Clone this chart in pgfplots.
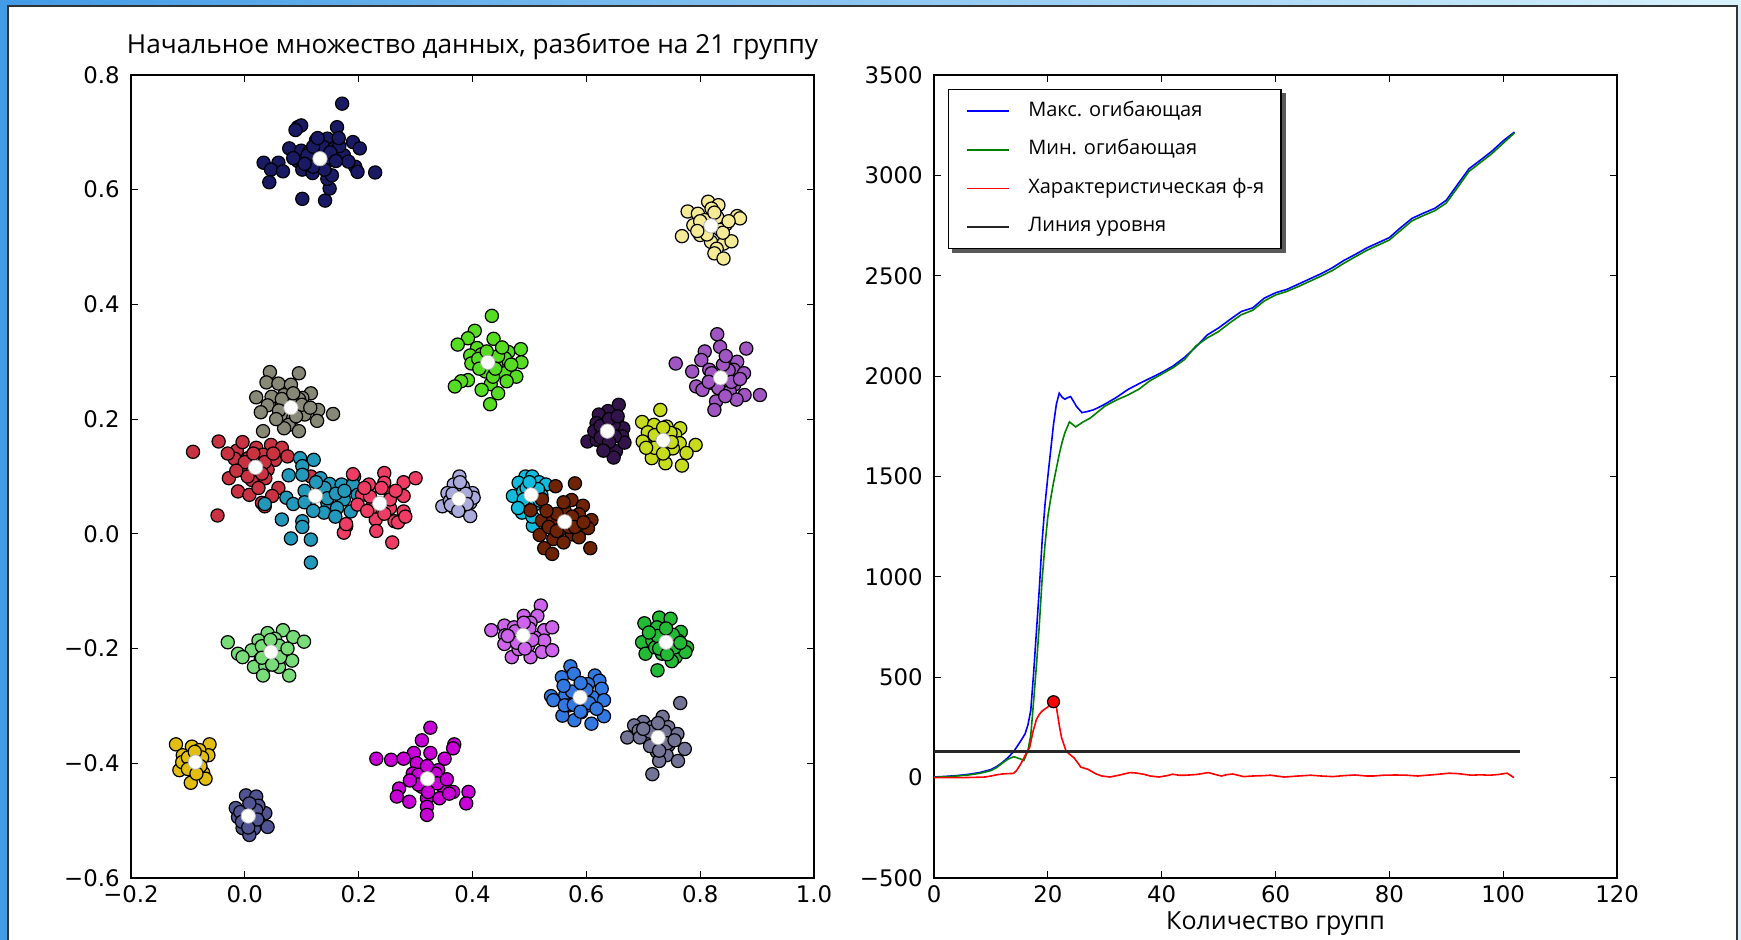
\documentclass[border=0pt]{standalone}
\usepackage{pgfplots}
\pgfplotsset{compat=1.18}
\usepackage{fontspec}
\setmainfont{Open Sans}
\newfontfamily\dejavu{DejaVu Sans}

\pgfdeclarelayer{bg}
\pgfdeclarelayer{shadow}
\pgfsetlayers{bg,shadow,main}

\definecolor{c01}{RGB}{25,25,100}
\definecolor{c02}{RGB}{245,235,150}
\definecolor{c03}{RGB}{85,221,34}
\definecolor{c04}{RGB}{160,85,195}
\definecolor{c05}{RGB}{136,136,119}
\definecolor{c06}{RGB}{200,50,65}
\definecolor{c07}{RGB}{34,153,187}
\definecolor{c08}{RGB}{238,60,100}
\definecolor{c09}{RGB}{170,170,220}
\definecolor{c10}{RGB}{17,187,221}
\definecolor{c11}{RGB}{110,35,5}
\definecolor{c12}{RGB}{50,20,75}
\definecolor{c13}{RGB}{200,220,30}
\definecolor{c14}{RGB}{120,220,120}
\definecolor{c15}{RGB}{205,100,235}
\definecolor{c16}{RGB}{34,187,51}
\definecolor{c17}{RGB}{50,120,225}
\definecolor{c18}{RGB}{115,115,150}
\definecolor{c19}{RGB}{225,190,15}
\definecolor{c20}{RGB}{80,85,145}
\definecolor{c21}{RGB}{200,0,215}
\definecolor{mplgreen}{RGB}{0,128,0}

\pgfplotsset{
  clu/.style={only marks, mark=*, mark size=3.3pt,
    mark options={fill=#1, draw=black, line width=0.6pt}},
  frame/.style={
    scale only axis, width=341.5pt, height=401.5pt, anchor=south west,
    tick align=inside, tick pos=both, major tick length=3.5pt,
    axis line style={line width=0.75pt},
    every tick/.style={black, line width=0.6pt},
    tick label style={font=\dejavu\fontsize{11.4}{13}\selectfont},
    xticklabel style={anchor=base, yshift=-12.5pt},
    yticklabel style={anchor=east, inner sep=0pt, xshift=-5.5pt},
  },
}

\begin{document}
\begin{tikzpicture}
\useasboundingbox (0,0) rectangle (870.5pt,470pt);
\begin{pgfonlayer}{bg}
\shade[left color={rgb,255:red,65;green,155;blue,230}, right color={rgb,255:red,215;green,242;blue,252}] (0,0) rectangle (870.5pt,470pt);
\fill[white] (4pt,-2pt) rectangle (868.5pt,467pt);
\draw[black!80, line width=0.6pt] (4pt,-2pt) -- (4pt,467pt) -- (868.5pt,467pt) -- (868.5pt,-2pt);
\end{pgfonlayer}

% left: clusters
\begin{axis}[frame, at={(65.5pt,31pt)},
  xmin=-0.2, xmax=1.0, ymin=-0.6, ymax=0.8,
  xtick={-0.2,0,0.2,0.4,0.6,0.8,1.0},
  xticklabels={−0.2,0.0,0.2,0.4,0.6,0.8,1.0},
  ytick={-0.6,-0.4,-0.2,0,0.2,0.4,0.6,0.8},
  yticklabels={−0.6,−0.4,−0.2,0.0,0.2,0.4,0.6,0.8},
  title={Начальное множество данных, разбитое на 21 группу},
  title style={at={(0.5,1)}, anchor=base, yshift=4.5pt, font=\fontsize{13.1}{15}\selectfont},
]
\addplot[clu=c01] coordinates {
(0.171,0.750) (0.093,0.709) (0.099,0.712) (0.089,0.704) (0.162,0.709) (0.078,0.672)
(0.190,0.683) (0.202,0.672) (0.033,0.647) (0.059,0.647) (0.046,0.635) (0.067,0.632)
(0.043,0.613) (0.101,0.584) (0.141,0.581) (0.149,0.602) (0.229,0.630) (0.194,0.640)
(0.198,0.631) (0.125,0.686) (0.145,0.689) (0.139,0.674) (0.157,0.672) (0.174,0.660)
(0.113,0.651) (0.093,0.650) (0.101,0.635) (0.119,0.629) (0.133,0.641) (0.149,0.652)
(0.145,0.619) (0.099,0.668) (0.153,0.625) (0.113,0.666) (0.166,0.676) (0.182,0.649)
(0.110,0.660) (0.120,0.675) (0.150,0.665) (0.160,0.650) (0.140,0.635) (0.120,0.640)
(0.105,0.645) (0.128,0.690) (0.165,0.690) (0.085,0.655)
};
\addplot[clu=c02] coordinates {
(0.814,0.579) (0.832,0.573) (0.778,0.562) (0.796,0.558) (0.865,0.554) (0.870,0.550)
(0.820,0.567) (0.808,0.547) (0.788,0.538) (0.845,0.539) (0.768,0.519) (0.800,0.521)
(0.819,0.509) (0.841,0.506) (0.855,0.510) (0.829,0.497) (0.825,0.489) (0.841,0.480)
(0.835,0.530) (0.804,0.533) (0.800,0.545) (0.830,0.552) (0.840,0.525) (0.812,0.522)
(0.795,0.528) (0.850,0.545) (0.825,0.560)
};
\addplot[clu=c03] coordinates {
(0.434,0.380) (0.404,0.354) (0.392,0.341) (0.374,0.330) (0.437,0.340) (0.408,0.324)
(0.463,0.317) (0.485,0.322) (0.396,0.311) (0.416,0.313) (0.457,0.306) (0.486,0.299)
(0.398,0.297) (0.442,0.294) (0.423,0.283) (0.457,0.280) (0.477,0.274) (0.392,0.268)
(0.380,0.266) (0.369,0.257) (0.432,0.261) (0.460,0.266) (0.416,0.251) (0.445,0.245)
(0.431,0.226) (0.436,0.274) (0.410,0.305) (0.445,0.310) (0.440,0.288) (0.412,0.288)
(0.425,0.318) (0.468,0.295) (0.452,0.325)
};
\addplot[clu=c04] coordinates {
(0.830,0.348) (0.835,0.326) (0.881,0.323) (0.808,0.318) (0.757,0.297) (0.802,0.303)
(0.865,0.300) (0.786,0.283) (0.816,0.286) (0.859,0.286) (0.877,0.280) (0.793,0.257)
(0.820,0.263) (0.860,0.260) (0.804,0.251) (0.832,0.254) (0.852,0.248) (0.878,0.242)
(0.905,0.242) (0.864,0.234) (0.828,0.231) (0.825,0.216) (0.844,0.240) (0.820,0.280)
(0.850,0.285) (0.855,0.265) (0.815,0.265) (0.840,0.295) (0.870,0.270) (0.845,0.310)
};
\addplot[clu=c05] coordinates {
(0.044,0.282) (0.095,0.280) (0.038,0.264) (0.059,0.262) (0.081,0.260) (0.116,0.245)
(0.020,0.238) (0.047,0.239) (0.069,0.242) (0.101,0.237) (0.040,0.224) (0.065,0.228)
(0.101,0.219) (0.129,0.216) (0.155,0.209) (0.028,0.212) (0.065,0.208) (0.085,0.202)
(0.105,0.208) (0.077,0.190) (0.127,0.197) (0.095,0.179) (0.032,0.179) (0.069,0.184)
(0.065,0.235) (0.095,0.235) (0.100,0.225) (0.060,0.215) (0.085,0.245) (0.090,0.205)
(0.055,0.200) (0.115,0.220)
};
\addplot[clu=c06] coordinates {
(-0.091,0.143) (-0.046,0.161) (-0.014,0.145) (-0.004,0.160) (0.020,0.150) (0.046,0.155)
(0.065,0.150) (-0.018,0.131) (0.006,0.132) (0.032,0.138) (0.053,0.129) (0.075,0.135)
(-0.008,0.112) (0.040,0.112) (-0.028,0.097) (0.012,0.094) (0.036,0.097) (-0.012,0.074)
(0.008,0.068) (0.024,0.080) (0.059,0.080) (0.030,0.054) (0.048,0.066) (0.116,0.100)
(-0.048,0.032) (0.035,0.048) (0.000,0.125) (0.035,0.125) (0.030,0.105) (0.005,0.100)
(0.015,0.140) (-0.015,0.110) (0.050,0.140) (-0.030,0.140)
};
\addplot[clu=c07] coordinates {
(0.097,0.132) (0.121,0.129) (0.101,0.118) (0.077,0.102) (0.101,0.103) (0.133,0.097)
(0.149,0.087) (0.170,0.086) (0.192,0.100) (0.190,0.086) (0.141,0.074) (0.073,0.063)
(0.085,0.052) (0.113,0.057) (0.145,0.054) (0.174,0.060) (0.198,0.068) (0.139,0.037)
(0.162,0.045) (0.186,0.039) (0.065,0.025) (0.101,0.022) (0.081,-0.008) (0.116,-0.010)
(0.116,-0.050) (0.101,0.012) (0.035,0.052) (0.159,0.030) (0.105,0.075) (0.140,0.080)
(0.145,0.062) (0.105,0.055) (0.125,0.090) (0.160,0.070) (0.120,0.040) (0.175,0.075)
};
\addplot[clu=c08] coordinates {
(0.190,0.104) (0.245,0.106) (0.218,0.086) (0.245,0.089) (0.279,0.090) (0.300,0.097)
(0.206,0.068) (0.256,0.071) (0.279,0.066) (0.198,0.051) (0.222,0.045) (0.255,0.045)
(0.279,0.039) (0.230,0.025) (0.263,0.022) (0.178,0.013) (0.174,0.002) (0.231,0.005)
(0.259,-0.015) (0.178,0.017) (0.269,0.020) (0.282,0.030) (0.220,0.065) (0.255,0.060)
(0.245,0.035) (0.215,0.040) (0.240,0.080) (0.265,0.075) (0.210,0.080)
};
\addplot[clu=c09] coordinates {
(0.377,0.100) (0.367,0.086) (0.383,0.083) (0.356,0.071) (0.400,0.071) (0.347,0.048)
(0.396,0.054) (0.368,0.045) (0.384,0.042) (0.396,0.031) (0.360,0.057) (0.402,0.063)
(0.365,0.070) (0.388,0.070) (0.390,0.052) (0.362,0.050) (0.378,0.090) (0.375,0.040)
};
\addplot[clu=c10] coordinates {
(0.493,0.100) (0.505,0.100) (0.481,0.089) (0.517,0.090) (0.529,0.086) (0.471,0.066)
(0.489,0.074) (0.521,0.068) (0.489,0.051) (0.509,0.051) (0.487,0.037) (0.506,0.014)
(0.495,0.080) (0.515,0.078) (0.518,0.058) (0.490,0.060) (0.500,0.090) (0.505,0.030)
(0.480,0.045)
};
\addplot[clu=c11] coordinates {
(0.546,0.083) (0.580,0.088) (0.574,0.059) (0.594,0.049) (0.522,0.060) (0.502,0.041)
(0.522,0.023) (0.542,0.026) (0.562,0.040) (0.587,0.034) (0.609,0.024) (0.603,0.010)
(0.554,0.008) (0.518,-0.002) (0.542,-0.009) (0.575,-0.001) (0.587,-0.006) (0.607,-0.025)
(0.526,-0.025) (0.540,-0.035) (0.570,0.012) (0.534,0.012) (0.548,0.035) (0.575,0.030)
(0.580,0.012) (0.548,0.005) (0.560,0.055) (0.595,0.020) (0.530,0.040) (0.560,-0.015)
};
\addplot[clu=c12] coordinates {
(0.657,0.225) (0.638,0.214) (0.622,0.208) (0.618,0.193) (0.654,0.199) (0.665,0.184)
(0.602,0.161) (0.618,0.164) (0.663,0.170) (0.636,0.155) (0.652,0.144) (0.648,0.133)
(0.614,0.179) (0.667,0.159) (0.625,0.188) (0.648,0.190) (0.650,0.170) (0.625,0.168)
(0.640,0.200) (0.640,0.160) (0.655,0.205) (0.630,0.145)
};
\addplot[clu=c13] coordinates {
(0.730,0.216) (0.698,0.195) (0.719,0.190) (0.741,0.187) (0.765,0.184) (0.708,0.177)
(0.756,0.173) (0.699,0.161) (0.723,0.158) (0.764,0.158) (0.792,0.155) (0.739,0.145)
(0.776,0.141) (0.715,0.132) (0.739,0.123) (0.768,0.119) (0.752,0.149) (0.720,0.172)
(0.748,0.176) (0.750,0.160) (0.720,0.150) (0.735,0.185) (0.735,0.140) (0.705,0.150)
};
\addplot[clu=c14] coordinates {
(-0.030,-0.189) (-0.012,-0.209) (0.040,-0.173) (0.067,-0.168) (0.024,-0.186) (0.053,-0.183)
(0.085,-0.180) (0.104,-0.188) (0.012,-0.203) (0.028,-0.218) (0.069,-0.203) (0.083,-0.221)
(0.016,-0.232) (0.036,-0.231) (0.060,-0.232) (0.032,-0.247) (0.078,-0.247) (-0.004,-0.215)
(0.030,-0.196) (0.060,-0.195) (0.062,-0.215) (0.030,-0.216) (0.045,-0.185) (0.048,-0.228)
(0.075,-0.200)
};
\addplot[clu=c15] coordinates {
(0.520,-0.125) (0.514,-0.143) (0.490,-0.143) (0.502,-0.155) (0.433,-0.168) (0.456,-0.160)
(0.473,-0.163) (0.526,-0.168) (0.540,-0.163) (0.457,-0.177) (0.510,-0.181) (0.473,-0.186)
(0.526,-0.186) (0.456,-0.192) (0.498,-0.195) (0.469,-0.215) (0.502,-0.215) (0.522,-0.206)
(0.540,-0.203) (0.481,-0.201) (0.475,-0.170) (0.500,-0.165) (0.505,-0.185) (0.478,-0.190)
(0.490,-0.155) (0.492,-0.200) (0.462,-0.178)
};
\addplot[clu=c16] coordinates {
(0.728,-0.146) (0.748,-0.148) (0.702,-0.156) (0.724,-0.163) (0.766,-0.171) (0.698,-0.189)
(0.716,-0.186) (0.761,-0.186) (0.777,-0.198) (0.704,-0.209) (0.733,-0.209) (0.757,-0.215)
(0.750,-0.222) (0.774,-0.206) (0.725,-0.238) (0.721,-0.198) (0.725,-0.178) (0.752,-0.176)
(0.755,-0.198) (0.728,-0.200) (0.740,-0.165) (0.742,-0.210) (0.710,-0.172) (0.765,-0.190)
};
\addplot[clu=c17] coordinates {
(0.572,-0.231) (0.557,-0.250) (0.578,-0.244) (0.615,-0.247) (0.623,-0.256) (0.603,-0.262)
(0.627,-0.270) (0.538,-0.283) (0.563,-0.281) (0.611,-0.285) (0.631,-0.290) (0.542,-0.290)
(0.570,-0.299) (0.603,-0.299) (0.591,-0.311) (0.631,-0.318) (0.579,-0.325) (0.609,-0.331)
(0.558,-0.317) (0.562,-0.299) (0.575,-0.275) (0.600,-0.272) (0.605,-0.295) (0.578,-0.298)
(0.590,-0.260) (0.590,-0.310) (0.618,-0.305) (0.560,-0.265)
};
\addplot[clu=c18] coordinates {
(0.765,-0.295) (0.734,-0.319) (0.700,-0.328) (0.684,-0.334) (0.672,-0.355) (0.692,-0.343)
(0.716,-0.337) (0.744,-0.337) (0.760,-0.349) (0.712,-0.363) (0.744,-0.369) (0.773,-0.375)
(0.724,-0.380) (0.741,-0.386) (0.761,-0.396) (0.728,-0.396) (0.716,-0.419) (0.694,-0.355)
(0.712,-0.345) (0.738,-0.345) (0.742,-0.365) (0.712,-0.370) (0.726,-0.330) (0.728,-0.378)
(0.700,-0.340) (0.755,-0.360)
};
\addplot[clu=c19] coordinates {
(-0.121,-0.367) (-0.062,-0.367) (-0.093,-0.371) (-0.109,-0.386) (-0.064,-0.386) (-0.115,-0.412)
(-0.097,-0.406) (-0.073,-0.417) (-0.069,-0.427) (-0.095,-0.434) (-0.080,-0.377) (-0.110,-0.398)
(-0.100,-0.390) (-0.075,-0.390) (-0.078,-0.405) (-0.100,-0.410) (-0.088,-0.380) (-0.085,-0.418)
};
\addplot[clu=c20] coordinates {
(0.002,-0.456) (0.020,-0.458) (-0.016,-0.478) (0.036,-0.487) (-0.012,-0.494) (0.024,-0.502)
(0.040,-0.511) (-0.004,-0.513) (0.016,-0.514) (0.008,-0.525) (0.024,-0.474) (-0.008,-0.485)
(0.020,-0.482) (0.022,-0.498) (-0.005,-0.502) (0.008,-0.470) (0.006,-0.512)
};
\addplot[clu=c21] coordinates {
(0.326,-0.338) (0.311,-0.360) (0.368,-0.367) (0.366,-0.374) (0.297,-0.382) (0.326,-0.382)
(0.231,-0.392) (0.257,-0.394) (0.279,-0.392) (0.351,-0.392) (0.302,-0.400) (0.340,-0.412)
(0.295,-0.418) (0.311,-0.441) (0.271,-0.444) (0.350,-0.444) (0.366,-0.450) (0.393,-0.450)
(0.267,-0.458) (0.289,-0.467) (0.320,-0.461) (0.342,-0.461) (0.389,-0.470) (0.320,-0.476)
(0.320,-0.490) (0.359,-0.453) (0.305,-0.420) (0.335,-0.418) (0.338,-0.435) (0.305,-0.437)
(0.320,-0.405) (0.322,-0.450) (0.290,-0.430) (0.355,-0.428)
};
% cluster centres
\addplot[only marks, mark=*, mark size=3.6pt, mark options={fill=white, draw=black!30, line width=0.4pt}] coordinates {
(0.132,0.654) (0.819,0.537) (0.427,0.299) (0.836,0.272) (0.081,0.220) (0.019,0.116)
(0.124,0.066) (0.237,0.053) (0.376,0.061) (0.503,0.068) (0.562,0.021) (0.637,0.179)
(0.735,0.163) (0.046,-0.206) (0.489,-0.177) (0.740,-0.189) (0.589,-0.285) (0.726,-0.355)
(-0.087,-0.398) (0.006,-0.492) (0.321,-0.427)
};
\end{axis}

% right: envelopes
\begin{axis}[frame, at={(467pt,31pt)},
  xmin=0, xmax=120, ymin=-500, ymax=3500,
  xtick={0,20,40,60,80,100,120},
  xticklabels={0,20,40,60,80,100,120},
  ytick={-500,0,500,1000,1500,2000,2500,3000,3500},
  yticklabels={−500,0,500,1000,1500,2000,2500,3000,3500},
  xlabel={Количество групп},
  xlabel style={at={(0.5,0)}, anchor=base, yshift=-26pt, font=\fontsize{12.5}{14}\selectfont},
  legend cell align=left,
  legend image code/.code={\draw[#1, line width=0.8pt] (0pt,0pt) -- (21pt,0pt);},
  legend style={name=leg, at={(0,1)}, anchor=north west, xshift=7pt, yshift=-7pt,
    draw=black, line width=0.7pt, fill=white,
    font=\fontsize{10}{11}\selectfont,
    inner xsep=8.5pt, inner ysep=6.25pt, row sep=10.3pt,
    nodes={inner sep=0pt, text height=7pt, text depth=2pt},
    /tikz/every odd column/.append style={column sep=9.5pt}},
]
\addplot[blue, line width=0.8pt] coordinates {
(0,3) (2,6) (4,10) (6,16) (8,25) (10,40) (11,55) (12,75) (13,100) (14,130) (15,172)
(16,218) (16.5,262) (17,335) (17.5,520) (18,730) (18.5,940) (19,1180) (19.5,1360)
(20,1500) (20.5,1630) (21,1760) (21.5,1860) (22,1915) (22.5,1895) (23,1885) (23.5,1893)
(24,1898) (24.5,1875) (25,1850) (26,1818) (27,1824) (28,1832) (29,1845) (30,1860)
(32,1893) (34,1932) (36,1962) (38,1990) (40,2018) (42,2050) (44,2093) (46,2145)
(48,2205) (50,2240) (52,2282) (54,2322) (56,2340) (58,2388) (60,2415) (62,2432)
(64,2458) (66,2484) (68,2510) (70,2540) (72,2576) (74,2606) (76,2638) (78,2664)
(80,2690) (82,2740) (84,2786) (86,2812) (88,2836) (90,2876) (92,2955) (94,3033)
(96,3076) (98,3120) (100,3172) (102,3216)
};
\addlegendentry{Макс. огибающая}
\addplot[mplgreen, line width=0.8pt] coordinates {
(0,2) (2,4) (4,8) (6,13) (8,21) (10,35) (11,50) (12,72) (13,92) (14,104) (15,95)
(15.8,86) (16.5,135) (17,210) (17.5,380) (18,560) (18.5,760) (19,990) (19.5,1160)
(20,1300) (20.5,1390) (21,1470) (21.5,1540) (22,1610) (22.5,1670) (23,1718)
(23.8,1772) (24.9,1747) (26.2,1772) (27.4,1790) (28.5,1815) (30,1850) (32,1880)
(34,1905) (36,1935) (38,1978) (40,2010) (42,2042) (44,2082) (46,2150) (48,2190)
(50,2222) (52,2266) (54,2306) (56,2328) (58,2374) (60,2404) (62,2422) (64,2446)
(66,2472) (68,2498) (70,2526) (72,2562) (74,2594) (76,2626) (78,2652) (80,2678)
(82,2726) (84,2774) (86,2800) (88,2824) (90,2862) (92,2940) (94,3020) (96,3064)
(98,3108) (100,3160) (102,3212)
};
\addlegendentry{Мин. огибающая}
\addplot[red, line width=0.8pt] coordinates {
(0,0) (5,0) (8,2) (9,3) (10,8) (11,14) (12,18) (13,20) (14,21) (14.5,35) (15.2,66)
(16,110) (16.8,150) (17.4,230) (18,290) (18.5,315) (19,332) (20,352) (20.9,378)
(21.5,352) (22,262) (22.4,200) (23.2,132) (24,112) (24.6,99) (25.3,72) (25.8,52)
(27,42) (28.5,18) (29.5,8) (30.9,3) (32.5,12) (34.4,25) (35.5,23) (36.8,17) (38,8)
(39.5,3) (41,10) (41.9,17) (43,12) (44.2,12) (46,15) (48.2,25) (49.5,15) (50.5,8)
(51.5,15) (52.5,18) (54.4,5) (56,8) (58,10) (59.1,12) (61.5,3) (64,8) (66.2,12)
(68,8) (70.1,5) (72,10) (74,13) (76,8) (77.2,8) (79,12) (81.1,13) (83,12) (85,8)
(86.6,12) (88,15) (90.5,22) (92,20) (94.4,12) (96,14) (97.6,12) (99,15) (100.7,22)
(101.9,0)
};
\addlegendentry{Характеристическая ф-я}
\addplot[black!85, line width=1.3pt] coordinates {(0,130) (103,130)};
\addlegendentry{Линия уровня}
\addplot[only marks, mark=*, mark size=3pt, mark options={fill=red, draw=black, line width=0.6pt}, forget plot] coordinates {(21,378)};
\end{axis}

\begin{pgfonlayer}{shadow}
\fill[black!65] ([xshift=2pt,yshift=-2pt]leg.south west) rectangle ([xshift=2pt,yshift=-2pt]leg.north east);
\end{pgfonlayer}
\end{tikzpicture}
\end{document}
